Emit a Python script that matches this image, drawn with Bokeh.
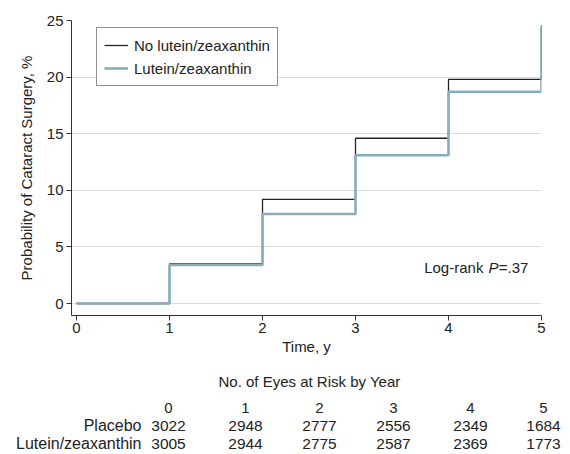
from bokeh.plotting import figure
from bokeh.models import FixedTicker, Range1d, Label, Legend
from bokeh.core.properties import value
from bokeh.embed import file_html
from bokeh.resources import INLINE

# ---------------- data ----------------
years = [0, 1, 2, 3, 4, 5]
no_lutein = [0.0, 3.5, 9.2, 14.6, 19.8, 24.6]
lutein = [0.0, 3.4, 7.9, 13.1, 18.7, 24.4]
y_ticks = [0, 5, 10, 15, 20, 25]
risk_groups = ["Placebo", "Lutein/zeaxanthin"]
risk_placebo = [3022, 2948, 2777, 2556, 2349, 1684]
risk_lutein = [3005, 2944, 2775, 2587, 2369, 1773]

FONT = "Liberation Sans"
TXT = "#222222"
BLUE = "#8aadbd"

TOP_H = 358
# ---------------- main chart ----------------
p = figure(width=570, height=TOP_H, output_backend="svg", toolbar_location=None,
           x_range=Range1d(-0.054, 5.0), y_range=Range1d(-1.06, 25),
           min_border_left=71, min_border_right=29, min_border_top=20,
           min_border_bottom=43)
p.outline_line_color = None
p.background_fill_color = "white"
p.border_fill_color = "white"

r1 = p.step(years, no_lutein, mode="after", line_color="#222222", line_width=1.3)
r2 = p.step(years, lutein, mode="after", line_color=BLUE, line_width=2.6)

legend = Legend(items=[("No lutein/zeaxanthin", [r1]), ("Lutein/zeaxanthin", [r2])],
                location=(25, 229))
legend.label_text_font = FONT
legend.label_text_font_size = "15px"
legend.label_text_color = TXT
legend.border_line_color = "#222222"
legend.border_line_width = 1
legend.padding = 7
legend.spacing = 3
legend.glyph_width = 24
legend.glyph_height = 20
legend.label_height = 20
legend.label_standoff = 6
legend.margin = 0
p.add_layout(legend, "center")

p.xgrid.visible = False
p.ygrid.grid_line_color = "#dcdcdc"
p.ygrid.grid_line_width = 1
p.yaxis.ticker = FixedTicker(ticks=y_ticks)
p.xaxis.ticker = FixedTicker(ticks=years)

for ax in (p.xaxis, p.yaxis):
    ax.axis_line_color = "#333333"
    ax.major_tick_line_color = "#333333"
    ax.major_tick_out = 5
    ax.major_tick_in = 0
    ax.minor_tick_line_color = None
    ax.major_label_text_font = FONT
    ax.major_label_text_font_size = "15px"
    ax.major_label_text_color = TXT
    ax.axis_label_text_font = FONT
    ax.axis_label_text_font_size = "15px"
    ax.axis_label_text_font_style = "normal"
    ax.axis_label_text_color = TXT

p.xaxis.axis_label = "Time, y"
p.yaxis.axis_label = "Probability of Cataract Surgery, %"
p.xaxis.major_label_standoff = 2
p.xaxis.axis_label_standoff = 2
p.yaxis.major_label_standoff = 3
p.yaxis.axis_label_standoff = 9

for txt, x, align, style in [("Log-rank", 4.375, "right", "normal"),
                             ("P", 4.43, "left", "italic"),
                             ("=.37", 4.54, "left", "normal")]:
    p.add_layout(Label(x=x, y=3.2, text=txt, text_align=align, text_baseline="middle",
                       text_font=FONT, text_font_size="15px", text_font_style=style,
                       text_color=TXT))

# ---------------- risk table (separate root, frame = whole canvas) ----------------
W, H = 570, 454 - TOP_H
t = figure(width=W, height=H, output_backend="svg", toolbar_location=None,
           x_range=Range1d(0, W), y_range=Range1d(0, H),
           min_border=0, min_border_left=0, min_border_right=0,
           min_border_top=0, min_border_bottom=0)
t.axis.visible = False
t.grid.visible = False
t.outline_line_color = None
t.border_fill_color = "white"

col_x = [168, 245, 319, 393, 470, 543]   # layout: column centres in px
y_title, y_head, y_r1, y_r2 = H - 23, H - 49, H - 67, H - 85

t.text(x=[309], y=[y_title], text=["No. of Eyes at Risk by Year"], text_align="center",
       text_baseline="middle", text_font=value(FONT), text_font_size="15px", text_color=TXT)
t.text(x=col_x, y=[y_head] * 6, text=[str(v) for v in years], text_align="center",
       text_baseline="middle", text_font=value(FONT), text_font_size="15px", text_color=TXT)
t.text(x=[141, 141], y=[y_r1, y_r2], text=risk_groups, text_align="right",
       text_baseline="middle", text_font=value(FONT), text_font_size="16px", text_color=TXT)
t.text(x=col_x, y=[y_r1] * 6, text=[str(v) for v in risk_placebo], text_align="center",
       text_baseline="middle", text_font=value(FONT), text_font_size="15.5px", text_color=TXT)
t.text(x=col_x, y=[y_r2] * 6, text=[str(v) for v in risk_lutein], text_align="center",
       text_baseline="middle", text_font=value(FONT), text_font_size="15.5px", text_color=TXT)

open("out.html", "w").write(file_html([p, t], INLINE))
